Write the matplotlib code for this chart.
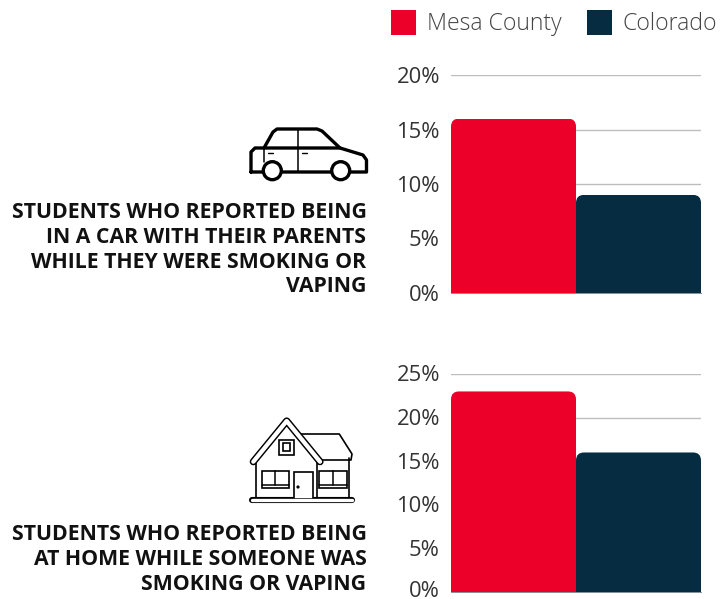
import matplotlib
matplotlib.use("Agg")
import matplotlib.pyplot as plt
from matplotlib.patches import Circle, Rectangle
from matplotlib.path import Path
from matplotlib.transforms import ScaledTranslation

plt.rcParams['font.family'] = ['Open Sans', 'DejaVu Sans']

series = ["Mesa County", "Colorado"]
colors = ["#ec0029", "#062c41"]
car_values = [16, 9]
home_values = [23, 16]
car_ticks = [0, 5, 10, 15, 20]
home_ticks = [0, 5, 10, 15, 20, 25]
car_title = ["STUDENTS WHO REPORTED BEING", "IN A CAR WITH THEIR PARENTS",
             "WHILE THEY WERE SMOKING OR", "VAPING"]
home_title = ["STUDENTS WHO REPORTED BEING", "AT HOME WHILE SOMEONE WAS",
              "SMOKING OR VAPING"]

W, H = 720, 599

def rounded_clip(left, right, top, rx, ry):
    # bar outline with only the top corners rounded
    verts = [(left, 0), (left, top - ry), (left, top), (left + rx, top),
             (right - rx, top), (right, top), (right, top - ry), (right, 0), (left, 0)]
    codes = [Path.MOVETO, Path.LINETO, Path.CURVE3, Path.CURVE3,
             Path.LINETO, Path.CURVE3, Path.CURVE3, Path.LINETO, Path.CLOSEPOLY]
    return Path(verts, codes)

def bar_chart(box, values, ticks, lift=0, zero_lift=0):
    x0, y0, x1, y1 = box
    ax = fig.add_axes([x0 / W, 1 - y1 / H, (x1 - x0) / W, (y1 - y0) / H])
    ax.set_xlim(0, 2)
    ax.set_ylim(0, ticks[-1])
    ax.set_yticks(ticks)
    ax.set_yticklabels([f"{t}%" for t in ticks], fontsize=15.8, color="#333333")
    ax.set_xticks([])
    ax.tick_params(axis='y', length=0, pad=8)
    ax.grid(axis='y', color="#bdbdbd", linewidth=1)
    ax.set_axisbelow(True)
    for s in ax.spines.values():
        s.set_visible(False)
    ax.spines['bottom'].set_visible(True)
    ax.spines['bottom'].set_color("#6f7d88")
    ax.spines['bottom'].set_linewidth(0.6)
    for t, lab in zip(ticks, ax.get_yticklabels()):
        up = lift + (zero_lift if t == 0 else 0)
        shift = ScaledTranslation(0, up / 72, fig.dpi_scale_trans)
        lab.set_transform(lab.get_transform() + shift)
    ry = 8 / (y1 - y0) * ticks[-1]
    rx = 8 / (x1 - x0) * 2
    bars = ax.bar([0, 1], values, width=1, align='edge', color=colors, linewidth=0)
    for i, b in enumerate(bars):
        b.set_clip_path(rounded_clip(i, i + 1, values[i], rx, ry), ax.transData)
    return ax

def line(pts, lw=2.5, color="black", z=3, cap='round'):
    over.plot([p[0] for p in pts], [p[1] for p in pts], color=color, lw=lw, zorder=z,
              solid_capstyle=cap, solid_joinstyle='round')

fig = plt.figure(figsize=(7.2, 5.99), dpi=100)

bar_chart((451, 75, 701, 293), car_values, car_ticks)
bar_chart((451, 374, 701, 592), home_values, home_ticks, lift=0.5, zero_lift=1.5)

over = fig.add_axes([0, 0, 1, 1])
over.set_xlim(0, W)
over.set_ylim(H, 0)
over.axis('off')
over.patch.set_alpha(0)

# legend
for x, tx, name, c in zip([391, 587], [427, 623], series, colors):
    over.add_patch(Rectangle((x, 10), 25, 25, color=c, linewidth=0))
    over.text(tx, 23.5, name, fontsize=16.6, color="#444444", va='center', ha='left', fontweight='light')

# titles
for y, s in zip([213, 237.5, 262, 287], car_title):
    over.text(366.5, y, s, fontsize=15.35, fontweight='bold', color="#111111", ha='right', va='center')
for y, s in zip([535, 559.5, 584], home_title):
    over.text(366.5, y, s, fontsize=15.35, fontweight='bold', color="#111111", ha='right', va='center')

# car icon
line([(251, 172), (251, 152), (255, 148), (340, 148), (363, 155), (366.5, 160), (366.5, 172), (251, 172)], lw=2.4)
line([(264, 148), (273, 132), (277, 129), (317, 129), (322, 131), (340, 148)], lw=2.4)
line([(264, 148), (264, 162)], lw=1.1)
line([(298, 129), (298, 172)], lw=1.1)
line([(267.5, 152.7), (272.5, 152.7)], lw=1.0)
line([(302, 152.7), (307, 152.7)], lw=1.0)
for cx in [272.3, 340.7]:
    over.add_patch(Circle((cx, 170.7), 9, facecolor="white", edgecolor="black", linewidth=2.4, zorder=4))

# house icon
lw_h = 1.2
line([(255.7, 461), (255.7, 499)], lw=lw_h)
line([(316.7, 461), (316.7, 499)], lw=lw_h)
line([(349.3, 458), (349.3, 499)], lw=lw_h)
line([(301, 434), (339.3, 434), (352, 454), (351, 460), (318, 460)], lw=lw_h)
line([(253.3, 461.7), (286.7, 421), (320, 461.7)], lw=5.2, z=3)
line([(253.3, 461.7), (286.7, 421), (320, 461.7)], lw=3.1, color="white", z=4)
line([(252, 500), (351.5, 500)], lw=4.4, z=3)
line([(252, 500), (351.5, 500)], lw=2.4, color="white", z=4)
over.add_patch(Rectangle((278.5, 439.5), 15, 15, facecolor="white", edgecolor="black", linewidth=1.2, zorder=3))
over.add_patch(Rectangle((282.5, 443), 7.5, 8, facecolor="white", edgecolor="black", linewidth=1.2, zorder=3))
for wx in [261.7, 319.3]:
    over.add_patch(Rectangle((wx, 470.7), 27.4, 17.6, facecolor="white", edgecolor="black", linewidth=1.2, zorder=3))
    line([(wx + 13.7, 470.7), (wx + 13.7, 485)], lw=1.1)
    line([(wx, 485), (wx + 27.4, 485)], lw=1.1)
over.add_patch(Rectangle((294, 472.3), 18.7, 26.5, facecolor="white", edgecolor="black", linewidth=1.2, zorder=3))
over.add_patch(Circle((298, 487), 0.9, color="black", zorder=5))

fig.savefig("out.png", dpi=100)
